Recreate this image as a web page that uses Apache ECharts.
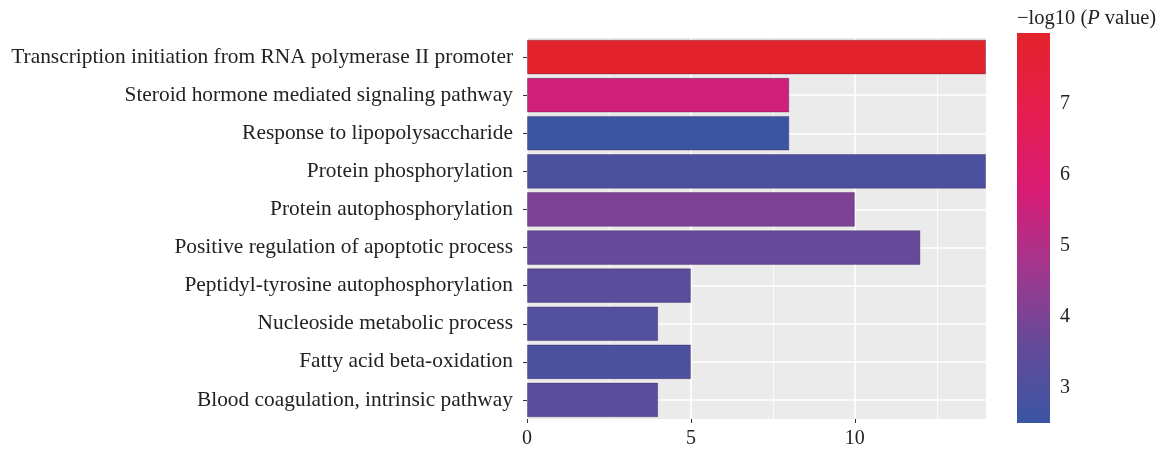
<!DOCTYPE html>
<html><head><meta charset="utf-8">
<script src="https://cdn.jsdelivr.net/npm/echarts@6/dist/echarts.min.js"></script>
<style>html,body{margin:0;padding:0;background:#fff}#c{width:1165px;height:455px}</style>
</head><body><div id="c"></div>
<script>
const categories = [
  'Transcription initiation from RNA polymerase II promoter',
  'Steroid hormone mediated signaling pathway',
  'Response to lipopolysaccharide',
  'Protein phosphorylation',
  'Protein autophosphorylation',
  'Positive regulation of apoptotic process',
  'Peptidyl-tyrosine autophosphorylation',
  'Nucleoside metabolic process',
  'Fatty acid beta-oxidation',
  'Blood coagulation, intrinsic pathway'
];
const counts = [14, 8, 8, 14, 10, 12, 5, 4, 5, 4];
const negLogP = [7.97, 5.6, 2.55, 2.95, 4.05, 3.6, 3.3, 3.1, 2.95, 3.3];
const xTicks = [0, 5, 10];
const legendTicks = [3, 4, 5, 6, 7];
const legendRange = [2.5, 8];
const palette = ['#3a55a3', '#654a99', '#a2368d', '#d91b74', '#e51e4e', '#e3232a'];

const FONT = '"Liberation Serif", "DejaVu Serif", serif';
const chart = echarts.init(document.getElementById('c'));
const stops = palette.map((c, i) => ({offset: i / (palette.length - 1), color: c}));

chart.setOption({
  animation: false,
  textStyle: {fontFamily: FONT},
  title: {
    left: 1012, top: 3,
    text: '{a|−log10 (}{i|P}{a| value)}',
    textStyle: {rich: {
      a: {fontFamily: FONT, fontSize: 20.5, color: '#222', fontWeight: 'normal'},
      i: {fontFamily: FONT, fontSize: 20.5, color: '#222', fontStyle: 'italic', fontWeight: 'normal'}
    }}
  },
  grid: [
    {left: 527, right: 179, top: 38, bottom: 36, backgroundColor: '#ebebeb', show: true, borderWidth: 0},
    {left: 1017, width: 33, top: 33, height: 390}
  ],
  xAxis: [
    {type: 'value', gridIndex: 0, min: 0, max: 14, interval: 5,
     axisLine: {show: false},
     axisTick: {show: true, length: 4, lineStyle: {color: '#333'}, customValues: xTicks},
     axisLabel: {fontSize: 20, color: '#222', margin: 10, customValues: xTicks, fontFamily: FONT},
     splitLine: {show: true, lineStyle: {color: '#ffffff', width: 1.6}},
     minorTick: {show: false, splitNumber: 2},
     minorSplitLine: {show: true, lineStyle: {color: '#ffffff', width: 0.8}}},
    {type: 'value', gridIndex: 1, min: 0, max: 1, show: false}
  ],
  yAxis: [
    {type: 'category', gridIndex: 0, data: categories, inverse: true,
     axisLine: {show: false},
     axisTick: {show: true, alignWithLabel: true, length: 4, lineStyle: {color: '#333'}},
     axisLabel: {fontSize: 21.4, color: '#222', margin: 14, fontFamily: FONT},
     splitLine: {show: false}},
    {type: 'value', gridIndex: 1, min: legendRange[0], max: legendRange[1], position: 'right',
     axisLine: {show: false},
     axisTick: {show: true, inside: true, length: 5, lineStyle: {color: '#ffffff', width: 2}, customValues: legendTicks},
     axisLabel: {fontSize: 20, color: '#222', margin: 10, customValues: legendTicks, fontFamily: FONT},
     splitLine: {show: false}},
    {type: 'value', gridIndex: 1, min: legendRange[0], max: legendRange[1], position: 'left',
     axisLine: {show: false},
     axisTick: {show: true, inside: true, length: 5, lineStyle: {color: '#ffffff', width: 2}, customValues: legendTicks},
     axisLabel: {show: false},
     splitLine: {show: false}}
  ],
  visualMap: {
    type: 'continuous', show: false, seriesIndex: 0, dimension: 2,
    min: legendRange[0], max: legendRange[1],
    inRange: {color: palette}
  },
  series: [
    {
      type: 'bar', xAxisIndex: 0, yAxisIndex: 0,
      barCategoryGap: '9%',
      encode: {x: 0, y: 1},
      data: categories.map((c, i) => [counts[i], c, negLogP[i]]),
      itemStyle: {borderColor: 'rgba(60,20,80,0.35)', borderWidth: 1},
      z: 5
    },
    {
      type: 'custom', xAxisIndex: 1, yAxisIndex: 1,
      data: [[0, legendRange[0], legendRange[1]]],
      renderItem: function (params, api) {
        const p0 = api.coord([0, api.value(2)]);
        const p1 = api.coord([1, api.value(1)]);
        return {
          type: 'rect',
          shape: {x: p0[0], y: p0[1], width: p1[0] - p0[0], height: p1[1] - p0[1]},
          style: {fill: new echarts.graphic.LinearGradient(0, 1, 0, 0, stops)},
          z2: 0
        };
      },
      z: 1
    },
    {
      type: 'line', xAxisIndex: 0, yAxisIndex: 0, data: [], silent: true, z: 1,
      markLine: {
        z: 1, silent: true, symbol: 'none', label: {show: false},
        lineStyle: {color: '#ffffff', width: 1.6, type: 'solid'},
        data: categories.map(c => ({yAxis: c}))
      }
    }
  ]
});
</script></body></html>
